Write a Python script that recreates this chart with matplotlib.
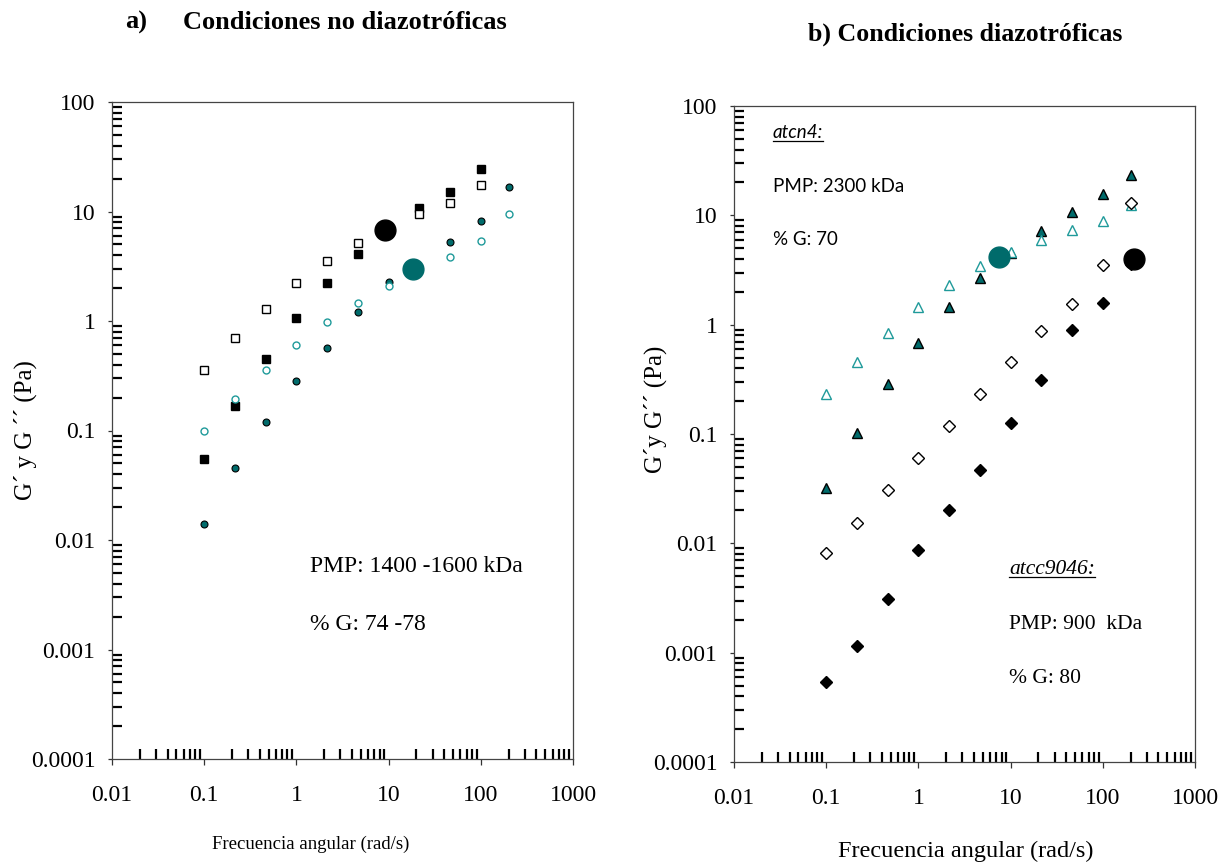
import matplotlib
matplotlib.use("Agg")
import matplotlib.pyplot as plt
from matplotlib.ticker import LogLocator, FuncFormatter, NullFormatter
from matplotlib.lines import Line2D

# Angular frequency sweep (rad/s)
freq = [0.1, 0.215, 0.464, 1, 2.15, 4.64, 10, 21.5, 46.4, 100, 200]
freq_sq = freq[:10]

# a) non-diazotrophic conditions
sq_storage = [0.055, 0.168, 0.447, 1.06, 2.21, 4.12, 6.5, 10.7, 15.0, 24.4]
sq_loss = [0.357, 0.70, 1.29, 2.21, 3.53, 5.19, 7.0, 9.5, 12.0, 17.6]
circ_storage = [0.0139, 0.0457, 0.120, 0.281, 0.570, 1.20, 2.26, 3.1, 5.30, 8.19, 16.7]
circ_loss = [0.098, 0.194, 0.357, 0.608, 0.97, 1.47, 2.07, 2.9, 3.82, 5.41, 9.43]
cross_a_x = [9.1, 18.2]
cross_a_y = [6.8, 2.97]

# b) diazotrophic conditions
atcn4_storage = [0.0324, 0.103, 0.285, 0.685, 1.44, 2.67, 4.5, 7.19, 10.7, 15.6, 23.6]
atcn4_loss = [0.231, 0.456, 0.847, 1.45, 2.33, 3.42, 4.62, 5.95, 7.34, 8.87, 12.5]
atcc_storage = [0.000538, 0.00115, 0.00311, 0.00873, 0.0202, 0.0470, 0.125, 0.311, 0.89, 1.59, 3.6]
atcc_loss = [0.00809, 0.0152, 0.0305, 0.0605, 0.119, 0.234, 0.456, 0.871, 1.56, 3.51, 13.1]
cross_b_x = [7.5, 216]
cross_b_y = [4.13, 4.02]

x_ticks = [0.01, 0.1, 1, 10, 100, 1000]
y_ticks = [0.0001, 0.001, 0.01, 0.1, 1, 10, 100]

TEAL = "#006b6b"
TEAL_LINE = "#1f9a9a"
SERIF = "Liberation Serif"
SANS = "Lato"

W, H = 1223, 867
fig = plt.figure(figsize=(W / 100, H / 100), dpi=100)
fig.patch.set_facecolor("white")


def px(x, y):
    return x / W, 1 - y / H


def style_axes(ax):
    ax.set_xscale("log")
    ax.set_yscale("log")
    ax.set_xlim(x_ticks[0], x_ticks[-1])
    ax.set_ylim(y_ticks[0], y_ticks[-1])
    ax.xaxis.set_major_locator(LogLocator(base=10, numticks=20))
    ax.yaxis.set_major_locator(LogLocator(base=10, numticks=20))
    ax.xaxis.set_minor_locator(LogLocator(base=10, subs=range(2, 10), numticks=20))
    ax.yaxis.set_minor_locator(LogLocator(base=10, subs=range(2, 10), numticks=20))
    fmt = FuncFormatter(lambda v, p: "{:g}".format(v))
    ax.xaxis.set_major_formatter(fmt)
    ax.yaxis.set_major_formatter(fmt)
    ax.xaxis.set_minor_formatter(NullFormatter())
    ax.yaxis.set_minor_formatter(NullFormatter())
    ax.tick_params(which="major", direction="out", length=3, width=0.9,
                   color="#333333", labelsize=17)
    ax.tick_params(axis="x", which="major", pad=15, length=4)
    ax.tick_params(axis="y", which="major", pad=9)
    ax.tick_params(which="minor", direction="in", length=7, width=1.6, color="black")
    ax.tick_params(top=False, right=False, which="both")
    for lab in ax.get_xticklabels() + ax.get_yticklabels():
        lab.set_fontfamily(SERIF)
    for s in ax.spines.values():
        s.set_color("#444444")
        s.set_linewidth(0.9)


# ---- panel a ----
ax1 = fig.add_axes([112 / W, 1 - 759 / H, 461 / W, 657 / H])
style_axes(ax1)
ax1.plot(freq_sq, sq_storage, ls="none", marker="s", ms=5.6, mfc="black", mec="black")
ax1.plot(freq_sq, sq_loss, ls="none", marker="s", ms=5.6, mfc="white", mec="black", mew=1.0)
ax1.plot(freq, circ_storage, ls="none", marker="o", ms=5.0, mfc=TEAL, mec="black", mew=0.8)
ax1.plot(freq, circ_loss, ls="none", marker="o", ms=5.0, mfc="white", mec=TEAL_LINE, mew=1.0)
ax1.plot(cross_a_x[:1], cross_a_y[:1], ls="none", marker="o", ms=15, mfc="black", mec="black")
ax1.plot(cross_a_x[1:], cross_a_y[1:], ls="none", marker="o", ms=15, mfc=TEAL, mec=TEAL)
ax1.set_xlabel("Frecuencia angular (rad/s)", fontfamily=SERIF, fontsize=13.5)
ax1.set_ylabel("G´ y G ´´ (Pa)", fontfamily=SERIF, fontsize=18)
ax1.xaxis.set_label_coords(0.432, -0.117)
ax1.yaxis.set_label_coords(-0.163, 0.50)

fig.text(*px(310, 572), "PMP: 1400 -1600 kDa", fontfamily=SERIF, fontsize=17, va="baseline")
fig.text(*px(310, 630), "% G: 74 -78", fontfamily=SERIF, fontsize=17, va="baseline")

fig.text(*px(125, 29), "a)", fontfamily=SERIF, fontweight="bold", fontsize=19, va="baseline")
fig.text(*px(183, 29), "Condiciones no diazotróficas", fontfamily=SERIF, fontweight="bold",
         fontsize=19, va="baseline")

# ---- panel b ----
ax2 = fig.add_axes([734 / W, 1 - 762 / H, 461 / W, 656 / H])
style_axes(ax2)
ax2.plot(freq, atcn4_storage, ls="none", marker="^", ms=7.5, mfc=TEAL, mec="black", mew=1.0)
ax2.plot(freq, atcn4_loss, ls="none", marker="^", ms=7.5, mfc="white", mec=TEAL_LINE, mew=1.0)
ax2.plot(freq, atcc_storage, ls="none", marker="D", ms=5.8, mfc="black", mec="black")
ax2.plot(freq, atcc_loss, ls="none", marker="D", ms=5.8, mfc="white", mec="black", mew=1.0)
ax2.plot(cross_b_x[:1], cross_b_y[:1], ls="none", marker="o", ms=15, mfc=TEAL, mec=TEAL)
ax2.plot(cross_b_x[1:], cross_b_y[1:], ls="none", marker="o", ms=15, mfc="black", mec="black")
ax2.set_xlabel("Frecuencia angular (rad/s)", fontfamily=SERIF, fontsize=17.5)
ax2.set_ylabel("G´y G´´ (Pa)", fontfamily=SERIF, fontsize=18)
ax2.xaxis.set_label_coords(0.503, -0.12)
ax2.yaxis.set_label_coords(-0.145, 0.537)

t_atcn = fig.text(*px(773, 138), "atcn4:", fontfamily=SANS, fontstyle="italic",
                  fontsize=13.5, va="baseline")
fig.text(*px(773, 192), "PMP: 2300 kDa", fontfamily=SANS, fontsize=13.5, va="baseline")
fig.text(*px(773, 245), "% G: 70", fontfamily=SANS, fontsize=13.5, va="baseline")

t_atcc = fig.text(*px(1009, 574), "atcc9046:", fontfamily=SERIF, fontstyle="italic",
                  fontsize=15.5, va="baseline")
fig.text(*px(1009, 629), "PMP: 900  kDa", fontfamily=SERIF, fontsize=15.5, va="baseline")
fig.text(*px(1009, 683), "% G: 80", fontfamily=SERIF, fontsize=15.5, va="baseline")

fig.text(*px(808, 41), "b) Condiciones diazotróficas", fontfamily=SERIF, fontweight="bold",
         fontsize=18.6, va="baseline")

# underline the strain names
fig.canvas.draw()
renderer = fig.canvas.get_renderer()
for t, base_y in ((t_atcn, 138), (t_atcc, 574)):
    bb = t.get_window_extent(renderer)
    y = 1 - (base_y + 3) / H
    fig.add_artist(Line2D([bb.x0 / W, bb.x1 / W], [y, y], transform=fig.transFigure,
                          color="black", lw=0.9))

fig.savefig("out.png", dpi=100)
